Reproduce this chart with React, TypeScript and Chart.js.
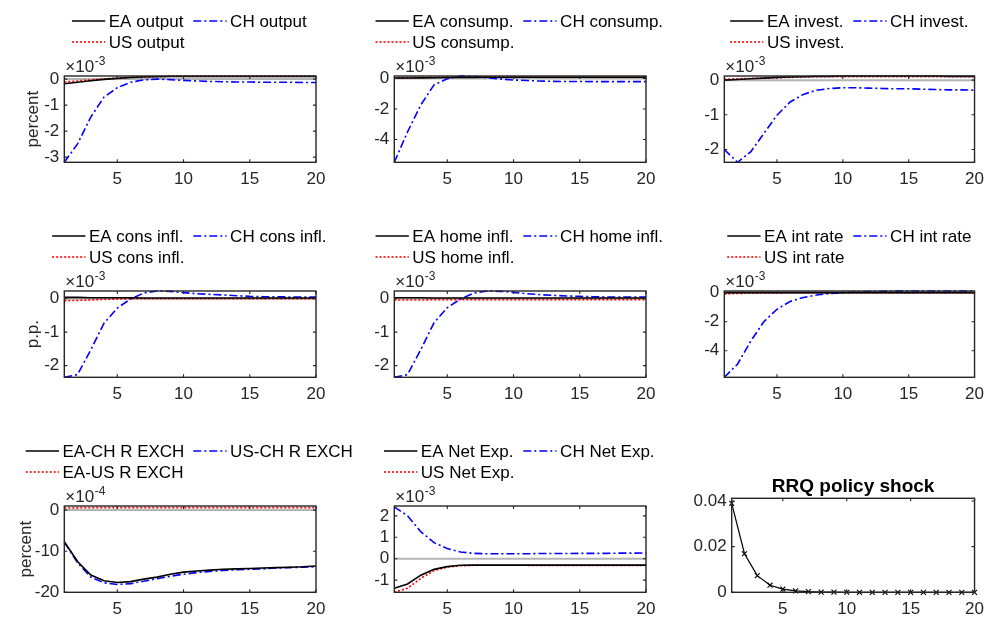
import React, { useEffect, useRef } from "react";
import { Chart, registerables } from "chart.js";

Chart.register(...registerables);

// ---------- data ----------
const PERIODS = [1, 2, 3, 4, 5, 6, 7, 8, 9, 10, 11, 12, 13, 14, 15, 16, 17, 18, 19, 20];
const X_TICKS = [5, 10, 15, 20];

// output (x1e-3)
const EA_OUTPUT = [-0.18, -0.12, -0.06, -0.01, 0.03, 0.06, 0.08, 0.09, 0.1, 0.1, 0.1, 0.1, 0.1, 0.1, 0.1, 0.1, 0.1, 0.1, 0.1, 0.1];
const CH_OUTPUT = [-3.2, -2.49, -1.46, -0.69, -0.33, -0.12, -0.03, 0.0, -0.02, -0.05, -0.07, -0.09, -0.1, -0.11, -0.11, -0.12, -0.12, -0.12, -0.13, -0.13];
const US_OUTPUT = [-0.11, -0.07, -0.03, 0.01, 0.04, 0.07, 0.09, 0.1, 0.11, 0.12, 0.12, 0.12, 0.12, 0.12, 0.12, 0.12, 0.12, 0.12, 0.12, 0.12];
const OUTPUT_YLIM = [-3.2, 0.12];
const OUTPUT_YTICKS = [-3, -2, -1, 0];

// consumption (x1e-3)
const EA_CONS = [0.02, 0.03, 0.04, 0.05, 0.06, 0.07, 0.07, 0.08, 0.08, 0.08, 0.08, 0.08, 0.08, 0.08, 0.08, 0.08, 0.08, 0.08, 0.08, 0.08];
const CH_CONS = [-5.5, -3.5, -1.74, -0.42, -0.02, 0.16, 0.13, 0.05, -0.04, -0.1, -0.14, -0.17, -0.19, -0.2, -0.2, -0.21, -0.21, -0.21, -0.21, -0.21];
const US_CONS = [0.05, 0.06, 0.07, 0.08, 0.09, 0.1, 0.1, 0.11, 0.11, 0.11, 0.11, 0.11, 0.11, 0.11, 0.11, 0.11, 0.11, 0.11, 0.11, 0.11];
const CONS_YLIM = [-5.5, 0.16];
const CONS_YTICKS = [-4, -2, 0];

// investment (x1e-3)
const EA_INV = [0.0, 0.02, 0.04, 0.06, 0.08, 0.09, 0.1, 0.11, 0.11, 0.12, 0.12, 0.12, 0.12, 0.12, 0.12, 0.12, 0.12, 0.11, 0.11, 0.11];
const CH_INV = [-2.0, -2.37, -2.07, -1.54, -1.01, -0.63, -0.41, -0.29, -0.24, -0.22, -0.22, -0.23, -0.24, -0.25, -0.25, -0.26, -0.27, -0.28, -0.28, -0.29];
const US_INV = [0.03, 0.04, 0.05, 0.06, 0.07, 0.08, 0.09, 0.1, 0.1, 0.1, 0.1, 0.1, 0.1, 0.1, 0.1, 0.1, 0.1, 0.1, 0.1, 0.1];
const INV_YLIM = [-2.37, 0.12];
const INV_YTICKS = [-2, -1, 0];

// consumer inflation (x1e-3)
const EA_CINF = [0.04, 0.04, 0.03, 0.03, 0.03, 0.03, 0.02, 0.02, 0.02, 0.02, 0.02, 0.02, 0.02, 0.02, 0.02, 0.02, 0.02, 0.02, 0.02, 0.02];
const CH_CINF = [-2.35, -2.27, -1.53, -0.73, -0.28, -0.01, 0.17, 0.23, 0.22, 0.18, 0.15, 0.13, 0.11, 0.09, 0.07, 0.06, 0.06, 0.05, 0.05, 0.05];
const US_CINF = [-0.06, -0.05, -0.04, -0.02, -0.01, 0.0, 0.0, 0.0, 0.0, 0.0, 0.0, 0.0, 0.0, 0.0, 0.0, 0.0, 0.0, 0.0, 0.0, 0.0];
const CINF_YLIM = [-2.35, 0.23];
const CINF_YTICKS = [-2, -1, 0];

// home inflation (x1e-3)
const EA_HINF = [0.03, 0.03, 0.03, 0.02, 0.02, 0.02, 0.02, 0.02, 0.02, 0.02, 0.02, 0.02, 0.02, 0.02, 0.02, 0.02, 0.02, 0.02, 0.02, 0.02];
const CH_HINF = [-2.35, -2.27, -1.52, -0.72, -0.27, -0.01, 0.17, 0.23, 0.22, 0.19, 0.15, 0.12, 0.1, 0.08, 0.07, 0.06, 0.05, 0.05, 0.05, 0.05];
const US_HINF = [-0.04, -0.04, -0.04, -0.03, -0.03, -0.03, -0.03, -0.03, -0.03, -0.03, -0.03, -0.03, -0.03, -0.03, -0.03, -0.03, -0.03, -0.03, -0.03, -0.03];
const HINF_YLIM = [-2.35, 0.23];
const HINF_YTICKS = [-2, -1, 0];

// interest rate (x1e-3)
const EA_INT = [0.01, 0.01, 0.01, 0.01, 0.01, 0.01, 0.01, 0.01, 0.01, 0.01, 0.01, 0.01, 0.01, 0.01, 0.01, 0.01, 0.01, 0.01, 0.01, 0.01];
const CH_INT = [-5.83, -4.93, -3.35, -2.0, -1.14, -0.6, -0.33, -0.16, -0.05, 0.0, 0.05, 0.08, 0.1, 0.11, 0.12, 0.12, 0.12, 0.12, 0.12, 0.12];
const US_INT = [-0.08, -0.05, -0.03, -0.02, -0.01, 0.0, 0.0, 0.0, 0.0, 0.0, 0.0, 0.0, 0.0, 0.0, 0.0, 0.0, 0.0, 0.0, 0.0, 0.0];
const INT_YLIM = [-5.83, 0.12];
const INT_YTICKS = [-4, -2, 0];

// real exchange rates (x1e-4)
const EA_CH_REXCH = [-7.7, -12.5, -15.8, -17.2, -17.6, -17.4, -16.8, -16.3, -15.6, -15.1, -14.8, -14.6, -14.4, -14.3, -14.2, -14.1, -14.0, -13.9, -13.8, -13.6];
const US_CH_REXCH = [-7.8, -12.8, -16.3, -17.7, -18.1, -17.9, -17.3, -16.7, -16.1, -15.6, -15.2, -14.9, -14.7, -14.5, -14.4, -14.3, -14.1, -14.0, -13.9, -13.8];
const EA_US_REXCH = [0.5, 0.55, 0.6, 0.6, 0.6, 0.6, 0.6, 0.6, 0.6, 0.6, 0.6, 0.6, 0.6, 0.6, 0.6, 0.6, 0.6, 0.6, 0.6, 0.6];
const REXCH_YLIM = [-20, 1];
const REXCH_YTICKS = [-20, -10, 0];

// net exports (x1e-3)
const EA_NX = [-1.38, -1.18, -0.77, -0.5, -0.37, -0.31, -0.3, -0.3, -0.3, -0.3, -0.3, -0.3, -0.3, -0.3, -0.3, -0.3, -0.3, -0.3, -0.3, -0.3];
const CH_NX = [2.42, 2.0, 1.26, 0.75, 0.47, 0.31, 0.25, 0.23, 0.23, 0.23, 0.23, 0.24, 0.24, 0.24, 0.25, 0.25, 0.25, 0.26, 0.26, 0.27];
const US_NX = [-1.57, -1.38, -0.92, -0.56, -0.39, -0.33, -0.31, -0.31, -0.31, -0.31, -0.31, -0.32, -0.32, -0.32, -0.32, -0.32, -0.32, -0.32, -0.32, -0.32];
const NX_YLIM = [-1.57, 2.46];
const NX_YTICKS = [-1, 0, 1, 2];

// RRQ policy shock
const RRQ_SHOCK = [0.039, 0.0169, 0.0073, 0.0031, 0.0014, 0.0006, 0.00026, 0.00011, 0.00005, 0.00002, 0.00001, 0, 0, 0, 0, 0, 0, 0, 0, 0];
const RRQ_YLIM = [0, 0.0412];
const RRQ_YTICKS = [0, 0.02, 0.04];

// ---------- style / layout ----------
const FONT = '"Liberation Sans", Arial, Helvetica, sans-serif';
const AX = "#262626";
const ZERO_COLOR = "#b4b4b4";
const YW = 50;
const XH = 22;
const FS = 17;

type Kind = "ea" | "ch" | "us" | "shock";
const STYLES: Record<Kind, { color: string; width: number; dash: number[]; marker: boolean }> = {
  ea: { color: "#000000", width: 1.6, dash: [], marker: false },
  ch: { color: "#0000ff", width: 1.6, dash: [8, 3, 2, 3], marker: false },
  us: { color: "#ff0000", width: 1.6, dash: [2, 2], marker: false },
  shock: { color: "#000000", width: 1.2, dash: [], marker: true },
};

type Series = { label: string; data: number[]; kind: Kind };
type Panel = {
  canvas: [number, number, number, number];
  box: [number, number, number, number];
  series: Series[];
  ylim: number[];
  yticks: number[];
  exp: string | null;
  ytitle: string | null;
  ytitleOffset: number;
  title: string | null;
  zero: boolean;
  legend: boolean;
};

const S = (label: string, data: number[], kind: Kind): Series => ({ label, data, kind });

const PANELS: Panel[] = [
  {
    canvas: [0, 0, 380, 205], box: [64.3, 76, 316, 162.3],
    series: [S("EA output", EA_OUTPUT, "ea"), S("CH output", CH_OUTPUT, "ch"), S("US output", US_OUTPUT, "us")],
    ylim: OUTPUT_YLIM, yticks: OUTPUT_YTICKS, exp: "-3", ytitle: "percent", ytitleOffset: 30.5, title: null, zero: true, legend: true,
  },
  {
    canvas: [330, 0, 400, 205], box: [394.3, 76, 646, 162.3],
    series: [S("EA consump.", EA_CONS, "ea"), S("CH consump.", CH_CONS, "ch"), S("US consump.", US_CONS, "us")],
    ylim: CONS_YLIM, yticks: CONS_YTICKS, exp: "-3", ytitle: null, ytitleOffset: 0, title: null, zero: true, legend: true,
  },
  {
    canvas: [660, 0, 331, 205], box: [724.3, 76, 976, 162.3],
    series: [S("EA invest.", EA_INV, "ea"), S("CH invest.", CH_INV, "ch"), S("US invest.", US_INV, "us")],
    ylim: INV_YLIM, yticks: INV_YTICKS, exp: "-3", ytitle: null, ytitleOffset: 0, title: null, zero: true, legend: true,
  },
  {
    canvas: [0, 205, 380, 215], box: [64.3, 291, 316, 377.3],
    series: [S("EA cons infl.", EA_CINF, "ea"), S("CH cons infl.", CH_CINF, "ch"), S("US cons infl.", US_CINF, "us")],
    ylim: CINF_YLIM, yticks: CINF_YTICKS, exp: "-3", ytitle: "p.p.", ytitleOffset: 31, title: null, zero: true, legend: true,
  },
  {
    canvas: [330, 205, 400, 215], box: [394.3, 291, 646, 377.3],
    series: [S("EA home infl.", EA_HINF, "ea"), S("CH home infl.", CH_HINF, "ch"), S("US home infl.", US_HINF, "us")],
    ylim: HINF_YLIM, yticks: HINF_YTICKS, exp: "-3", ytitle: null, ytitleOffset: 0, title: null, zero: true, legend: true,
  },
  {
    canvas: [660, 205, 331, 215], box: [724.3, 291, 976, 377.3],
    series: [S("EA int rate", EA_INT, "ea"), S("CH int rate", CH_INT, "ch"), S("US int rate", US_INT, "us")],
    ylim: INT_YLIM, yticks: INT_YTICKS, exp: "-3", ytitle: null, ytitleOffset: 0, title: null, zero: true, legend: true,
  },
  {
    canvas: [0, 420, 380, 197], box: [64.3, 506, 316, 592.3],
    series: [S("EA-CH R EXCH", EA_CH_REXCH, "ea"), S("US-CH R EXCH", US_CH_REXCH, "ch"), S("EA-US R EXCH", EA_US_REXCH, "us")],
    ylim: REXCH_YLIM, yticks: REXCH_YTICKS, exp: "-4", ytitle: "percent", ytitleOffset: 37.5, title: null, zero: true, legend: true,
  },
  {
    canvas: [330, 420, 400, 197], box: [394.3, 506, 646, 592.3],
    series: [S("EA Net Exp.", EA_NX, "ea"), S("CH Net Exp.", CH_NX, "ch"), S("US Net Exp.", US_NX, "us")],
    ylim: NX_YLIM, yticks: NX_YTICKS, exp: "-3", ytitle: null, ytitleOffset: 0, title: null, zero: true, legend: true,
  },
  {
    canvas: [660, 420, 331, 197], box: [731.7, 498.3, 976, 592.3],
    series: [S("RRQ policy shock", RRQ_SHOCK, "shock")],
    ylim: RRQ_YLIM, yticks: RRQ_YTICKS, exp: null, ytitle: null, ytitleOffset: 0, title: "RRQ policy shock", zero: false, legend: false,
  },
];

function fmt(v: number): string {
  return String(Number(v.toFixed(4)));
}

function decorPlugin(p: Panel) {
  return {
    id: "matlabDecor",
    beforeDatasetsDraw(chart: any) {
      if (!p.zero) return;
      const { ctx, chartArea: a, scales } = chart;
      const y = scales.y.getPixelForValue(0);
      ctx.save();
      ctx.strokeStyle = ZERO_COLOR;
      ctx.lineWidth = 2;
      ctx.beginPath();
      ctx.moveTo(a.left, y);
      ctx.lineTo(a.right, y);
      ctx.stroke();
      ctx.restore();
    },
    afterDraw(chart: any) {
      const { ctx, chartArea: a, scales } = chart;
      ctx.save();
      // box
      ctx.strokeStyle = AX;
      ctx.lineWidth = 1.4;
      ctx.setLineDash([]);
      ctx.strokeRect(a.left, a.top, a.right - a.left, a.bottom - a.top);
      // inward ticks
      const TL = 3;
      ctx.lineWidth = 1.1;
      ctx.beginPath();
      X_TICKS.forEach((v) => {
        const x = scales.x.getPixelForValue(v);
        ctx.moveTo(x, a.bottom);
        ctx.lineTo(x, a.bottom - TL);
        ctx.moveTo(x, a.top);
        ctx.lineTo(x, a.top + TL);
      });
      p.yticks.forEach((v) => {
        const y = scales.y.getPixelForValue(v);
        ctx.moveTo(a.left, y);
        ctx.lineTo(a.left + TL, y);
        ctx.moveTo(a.right, y);
        ctx.lineTo(a.right - TL, y);
      });
      ctx.stroke();

      // exponent label
      if (p.exp) {
        ctx.fillStyle = AX;
        ctx.textAlign = "left";
        ctx.textBaseline = "alphabetic";
        ctx.font = `${FS}px ${FONT}`;
        const base = "\u00d710";
        ctx.fillText(base, a.left + 1, a.top - 4);
        const w = ctx.measureText(base).width;
        ctx.font = `${12}px ${FONT}`;
        ctx.fillText(p.exp, a.left + 1 + w + 0.5, a.top - 11);
      }

      // y title
      if (p.ytitle) {
        ctx.save();
        ctx.fillStyle = AX;
        ctx.font = `${FS}px ${FONT}`;
        ctx.textAlign = "center";
        ctx.textBaseline = "middle";
        ctx.translate(a.left - p.ytitleOffset, (a.top + a.bottom) / 2);
        ctx.rotate(-Math.PI / 2);
        ctx.fillText(p.ytitle, 0, 0);
        ctx.restore();
      }

      // title
      if (p.title) {
        ctx.fillStyle = "#000";
        ctx.font = `bold ${Math.round(FS * 1.1)}px ${FONT}`;
        ctx.textAlign = "center";
        ctx.textBaseline = "middle";
        ctx.fillText(p.title, (a.left + a.right) / 2, a.top - 12);
      }

      // legend
      if (p.legend) {
        const LINE = 33.3;
        const GAP = 3.5;
        const PAD = 8;
        ctx.font = `${FS}px ${FONT}`;
        const widths = p.series.map((s) => ctx.measureText(s.label).width);
        const colW = Math.max(...widths) + LINE + GAP + PAD;
        const cx = a.left + 129;
        p.series.forEach((s, i) => {
          const col = i === 1 ? 1 : 0;
          const row = i === 2 ? 1 : 0;
          const x0 = col === 0 ? cx - colW : cx;
          const y = a.top + (row === 0 ? -55 : -34);
          const st = STYLES[s.kind];
          ctx.strokeStyle = st.color;
          ctx.lineWidth = st.width;
          ctx.setLineDash(st.dash);
          ctx.beginPath();
          ctx.moveTo(x0, y);
          ctx.lineTo(x0 + LINE, y);
          ctx.stroke();
          ctx.setLineDash([]);
          ctx.fillStyle = "#000";
          ctx.textAlign = "left";
          ctx.textBaseline = "middle";
          ctx.fillText(s.label, x0 + LINE + GAP, y + 1);
        });
      }
      ctx.restore();
    },
  };
}

function PanelChart({ p }: { p: Panel }) {
  const ref = useRef<HTMLCanvasElement | null>(null);
  useEffect(() => {
    const canvas = ref.current;
    if (!canvas) return;
    const [cx, cy, cw, ch] = p.canvas;
    const [bl, bt, br, bb] = p.box;
    const datasets = p.series.map((s) => {
      const st = STYLES[s.kind];
      return {
        label: s.label,
        data: PERIODS.map((t, i) => ({ x: t, y: s.data[i] })),
        borderColor: st.color,
        backgroundColor: st.color,
        borderWidth: st.width,
        borderDash: st.dash,
        pointRadius: st.marker ? 3.5 : 0,
        pointStyle: "crossRot",
        pointBorderColor: st.color,
        pointBorderWidth: 1.1,
        tension: 0,
        fill: false,
        clip: false as any,
      };
    });
    const tickFont = { family: FONT, size: FS };
    const chart = new Chart(canvas, {
      type: "line",
      data: { datasets },
      plugins: [decorPlugin(p)],
      options: {
        animation: false,
        responsive: false,
        devicePixelRatio: 1,
        events: [],
        layout: {
          padding: {
            left: bl - cx - YW,
            top: bt - cy,
            right: cx + cw - br,
            bottom: cy + ch - bb - XH,
          },
        },
        plugins: { legend: { display: false }, tooltip: { enabled: false }, title: { display: false } },
        scales: {
          x: {
            type: "linear",
            min: 1,
            max: 20,
            grid: { display: false, drawTicks: false },
            border: { display: false },
            afterFit: (s: any) => { s.height = XH; },
            afterBuildTicks: (s: any) => { s.ticks = X_TICKS.map((v) => ({ value: v })); },
            ticks: { font: tickFont, color: AX, padding: 7, maxRotation: 0, autoSkip: false, callback: (v: any) => fmt(Number(v)) },
          },
          y: {
            type: "linear",
            min: p.ylim[0],
            max: p.ylim[1],
            grid: { display: false, drawTicks: false },
            border: { display: false },
            afterFit: (s: any) => { s.width = YW; },
            afterBuildTicks: (s: any) => { s.ticks = p.yticks.map((v) => ({ value: v })); },
            ticks: { font: tickFont, color: AX, padding: 5, autoSkip: false, callback: (v: any) => fmt(Number(v)) },
          },
        },
      } as any,
    });
    return () => chart.destroy();
  }, [p]);
  const [cx, cy, cw, ch] = p.canvas;
  return (
    <canvas
      ref={ref}
      width={cw}
      height={ch}
      style={{ position: "absolute", left: cx, top: cy, width: cw, height: ch }}
    />
  );
}

export default function App() {
  return (
    <div style={{ position: "fixed", left: 0, top: 0, width: 991, height: 617, background: "#ffffff", overflow: "hidden" }}>
      {PANELS.map((p, i) => (
        <PanelChart key={i} p={p} />
      ))}
    </div>
  );
}
